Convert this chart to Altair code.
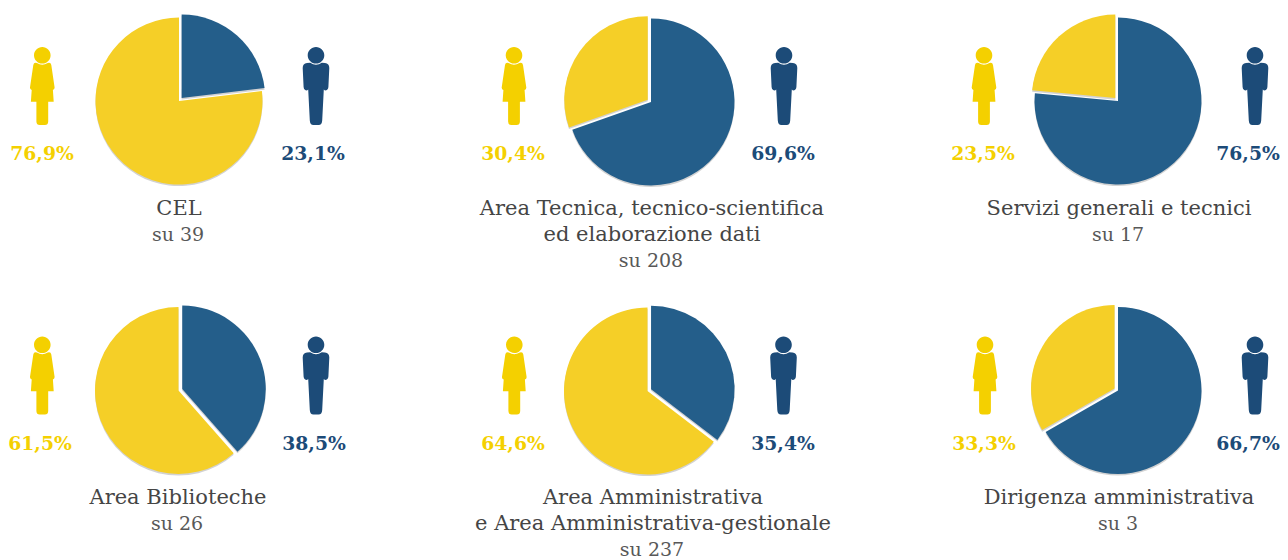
import math
import re
import altair as alt
import pandas as pd

# ---------- data ----------
panels = ["CEL", "Tecnica", "Servizi", "Biblioteche", "Amministrativa", "Dirigenza"]
female_pct = [76.9, 30.4, 23.5, 61.5, 64.6, 33.3]
male_pct = [23.1, 69.6, 76.5, 38.5, 35.4, 66.7]
title_lines = [
    ["CEL"],
    ["Area Tecnica, tecnico-scientifica", "ed elaborazione dati"],
    ["Servizi generali e tecnici"],
    ["Area Biblioteche"],
    ["Area Amministrativa", "e Area Amministrativa-gestionale"],
    ["Dirigenza amministrativa"],
]
totals = [39, 208, 17, 26, 237, 3]

# ---------- layout (page pixels, moved into the chart by MARGIN) ----------
MARGIN = 8
W, H = 1272, 552
RADIUS = 83.5
EXPLODE = 4
pie_x = [179, 651, 1118, 178.5, 647.5, 1118]
pie_y = [101, 102, 101, 390.5, 391, 390.5]
female_icon_x = [42.3, 514, 984, 42.3, 514.3, 985]
male_icon_x = [316, 784, 1255, 316, 783.5, 1255]
icon_y = [86, 86, 86, 375.5, 375.5, 375.5]
female_label_x = [42, 513, 983, 40, 513, 984]
male_label_x = [313, 783, 1248, 314, 783, 1248]
label_y = [154, 154, 154, 444, 444, 444]
caption_x = [179, 652, 1119, 178, 653, 1119]
caption_y = [209, 209, 209, 498, 498, 498]
LINE_STEP = 26.2

YELLOW_PIE, BLUE_PIE = "#F5CF27", "#245E8A"
YELLOW, BLUE = "#F4D000", "#1C4B78"
TEXT_DARK, TEXT_SOFT = "#454545", "#585858"
FONT = "DejaVu Serif"


def scaled(path, half=39.0):
    return re.sub(r"-?\d+\.?\d*", lambda m: f"{float(m.group()) / half:.4f}", path)


HEAD = "M0 -39 C4.6 -39 8.3 -35.3 8.3 -30.8 C8.3 -26.2 4.6 -22.5 0 -22.5 C-4.6 -22.5 -8.3 -26.2 -8.3 -30.8 C-8.3 -35.3 -4.6 -39 0 -39 Z "
FEMALE = scaled(
    HEAD
    + "M-9 -21 Q-8.6 -23.2 -6.8 -23.2 L-5.4 -23 Q0 -19.4 5.4 -23 L6.8 -23.2 Q8.6 -23.2 9 -21 "
    "L12.3 1.5 Q12.4 3.4 10.6 4 L11.4 15.7 L5.9 15.7 L5.9 35.5 Q5.8 39 2.6 39 L-2.6 39 "
    "Q-5.8 39 -5.9 35.5 L-5.9 15.7 L-11.4 15.7 L-10.6 4 Q-12.4 3.4 -12.3 1.5 Z"
)
MALE = scaled(
    HEAD
    + "M-13.3 -18 Q-13.3 -22.6 -9 -23 L-5.8 -23.2 Q0 -19.4 5.8 -23.2 L9 -23 Q13.3 -22.6 13.3 -18 "
    "L12.4 1 Q12.1 4.4 9 4.4 L7.8 3.4 L6.2 34.5 Q5.9 39 2.6 39 L-2.6 39 Q-5.9 39 -6.2 34.5 "
    "L-7.8 3.4 L-9 4.4 Q-12.1 4.4 -12.4 1 Z"
)

# ---------- tables ----------
slices, icons, labels, captions = [], [], [], []
for i, panel in enumerate(panels):
    m, f = male_pct[i], female_pct[i]
    for sex, start, end in (("Uomini", 0, m), ("Donne", m, m + f)):
        # the smaller slice is pulled out of the pie along its own bisector
        pulled = (end - start) < 50
        mid = (start + end) / 100 * math.pi
        d = EXPLODE if pulled else 0
        slices.append({
            "panel": panel, "sex": sex, "start": start, "end": end,
            "order": 1 if pulled else 0,
            "cx": pie_x[i] - MARGIN + d * math.sin(mid),
            "cy": pie_y[i] - MARGIN - d * math.cos(mid),
        })
    icons.append({"sex": "Donne", "x": female_icon_x[i] - MARGIN, "y": icon_y[i] - MARGIN})
    icons.append({"sex": "Uomini", "x": male_icon_x[i] - MARGIN, "y": icon_y[i] - MARGIN})
    labels.append({"sex": "Donne", "x": female_label_x[i] - MARGIN, "y": label_y[i] - MARGIN,
                   "text": f"{f:.1f}%".replace(".", ",")})
    labels.append({"sex": "Uomini", "x": male_label_x[i] - MARGIN, "y": label_y[i] - MARGIN,
                   "text": f"{m:.1f}%".replace(".", ",")})
    lines = title_lines[i]
    for j, line in enumerate(lines):
        captions.append({"x": caption_x[i] - MARGIN, "y": caption_y[i] - MARGIN + j * LINE_STEP,
                         "text": line, "kind": "title"})
    captions.append({"x": caption_x[i] - MARGIN - 1, "y": caption_y[i] - MARGIN + len(lines) * LINE_STEP,
                     "text": f"su {totals[i]}", "kind": "total"})

slices = pd.DataFrame(slices).sort_values("order")
shadow = slices.assign(cy=slices.cy + 1.6)
icons, labels, captions = map(pd.DataFrame, (icons, labels, captions))

X = alt.X("x:Q", scale=None, axis=None)
Y = alt.Y("y:Q", scale=None, axis=None)
pie_theta = dict(
    theta=alt.Theta("start:Q", scale=alt.Scale(domain=[0, 100], range=[0, 2 * math.pi])),
    theta2=alt.Theta2("end:Q"),
    x=alt.X("cx:Q", scale=None, axis=None),
    y=alt.Y("cy:Q", scale=None, axis=None),
)
pie_color = alt.Color("sex:N", scale=alt.Scale(domain=["Donne", "Uomini"], range=[YELLOW_PIE, BLUE_PIE]), legend=None)
ink_color = alt.Color("sex:N", scale=alt.Scale(domain=["Donne", "Uomini"], range=[YELLOW, BLUE]), legend=None)

shadow_layer = alt.Chart(shadow).mark_arc(radius=RADIUS, fill="#8a8a8a", opacity=0.38).encode(**pie_theta)
pie_layer = alt.Chart(slices).mark_arc(radius=RADIUS).encode(color=pie_color, order=alt.Order("order:Q"), **pie_theta)
female_layer = alt.Chart(icons[icons.sex == "Donne"]).mark_point(
    shape=FEMALE, size=78 ** 2, filled=True, opacity=1, fill=YELLOW, strokeWidth=0).encode(x=X, y=Y)
male_layer = alt.Chart(icons[icons.sex == "Uomini"]).mark_point(
    shape=MALE, size=78 ** 2, filled=True, opacity=1, fill=BLUE, strokeWidth=0).encode(x=X, y=Y)
label_layer = alt.Chart(labels).mark_text(
    font=FONT, fontSize=18.8, fontWeight="bold", align="center", baseline="middle"
).encode(x=X, y=Y, text="text:N", color=ink_color)
title_layer = alt.Chart(captions[captions.kind == "title"]).mark_text(
    font=FONT, fontSize=21, align="center", baseline="middle", color=TEXT_DARK
).encode(x=X, y=Y, text="text:N")
total_layer = alt.Chart(captions[captions.kind == "total"]).mark_text(
    font=FONT, fontSize=19, align="center", baseline="middle", color=TEXT_SOFT
).encode(x=X, y=Y, text="text:N")

chart = (
    alt.layer(shadow_layer, pie_layer, female_layer, male_layer, label_layer, title_layer, total_layer)
    .resolve_scale(color="independent")
    .properties(width=W, height=H, padding=0, autosize=alt.AutoSizeParams(type="none"))
    .configure_view(stroke=None)
)
chart.save("out.html", embed_options={"renderer": "svg", "actions": False})
